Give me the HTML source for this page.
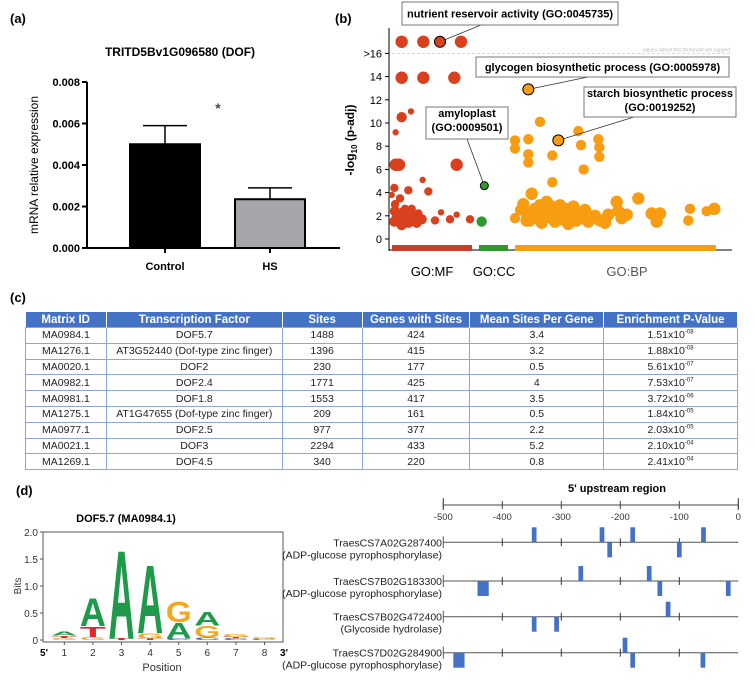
<!DOCTYPE html>
<html><head><meta charset="utf-8">
<style>
body{margin:0;background:#fff;width:755px;height:690px;overflow:hidden;position:relative;font-family:"Liberation Sans",Arial,sans-serif;}
svg{position:absolute;left:0;top:0;}
table{position:absolute;left:25px;top:312px;width:713px;border-collapse:collapse;font-family:"Liberation Sans Narrow","Liberation Sans",sans-serif;font-size:10.5px;color:#222;}
th{background:#4472c4;color:#fff;font-weight:bold;font-size:11.5px;height:15px;padding:0;border-right:1px solid #fff;}
td{height:14.8px;padding:0;text-align:center;border:1px solid #8ea6d6;}
sup{font-size:6px;}
</style></head>
<body>
<svg width="755" height="690" viewBox="0 0 755 690" font-family="Liberation Sans, Arial, sans-serif">
<text x="10" y="23" font-size="13" font-weight="bold">(a)</text>
<text x="335" y="23" font-size="13" font-weight="bold">(b)</text>
<text x="10" y="302" font-size="13" font-weight="bold">(c)</text>
<text x="16" y="495" font-size="13" font-weight="bold">(d)</text>
<g id="pa"></g>
<g id="pb"></g>
<g id="pd1"></g>
<g id="pd2"></g>
</svg>
<table>
<colgroup><col style="width:81px"><col style="width:176px"><col style="width:80px"><col style="width:108px"><col style="width:134px"><col style="width:134px"></colgroup>
<tr><th>Matrix ID</th><th>Transcription Factor</th><th>Sites</th><th>Genes with Sites</th><th>Mean Sites Per Gene</th><th>Enrichment P-Value</th></tr>
<tr><td>MA0984.1</td><td>DOF5.7</td><td>1488</td><td>424</td><td>3.4</td><td>1.51x10<sup>-08</sup></td></tr>
<tr><td>MA1276.1</td><td>AT3G52440 (Dof-type zinc finger)</td><td>1396</td><td>415</td><td>3.2</td><td>1.88x10<sup>-08</sup></td></tr>
<tr><td>MA0020.1</td><td>DOF2</td><td>230</td><td>177</td><td>0.5</td><td>5.61x10<sup>-07</sup></td></tr>
<tr><td>MA0982.1</td><td>DOF2.4</td><td>1771</td><td>425</td><td>4</td><td>7.53x10<sup>-07</sup></td></tr>
<tr><td>MA0981.1</td><td>DOF1.8</td><td>1553</td><td>417</td><td>3.5</td><td>3.72x10<sup>-06</sup></td></tr>
<tr><td>MA1275.1</td><td>AT1G47655 (Dof-type zinc finger)</td><td>209</td><td>161</td><td>0.5</td><td>1.84x10<sup>-05</sup></td></tr>
<tr><td>MA0977.1</td><td>DOF2.5</td><td>977</td><td>377</td><td>2.2</td><td>2.03x10<sup>-05</sup></td></tr>
<tr><td>MA0021.1</td><td>DOF3</td><td>2294</td><td>433</td><td>5.2</td><td>2.10x10<sup>-04</sup></td></tr>
<tr><td>MA1269.1</td><td>DOF4.5</td><td>340</td><td>220</td><td>0.8</td><td>2.41x10<sup>-04</sup></td></tr>
</table>
<script>
// ---- Panel a data ----
var aCategories = ["Control", "HS"];
var aMeans = [0.0050, 0.00235];
var aErrors = [0.0009, 0.00055];
var aTicks = [0, 0.002, 0.004, 0.006, 0.008];
// ---- Panel b data: [term position, -log10 p-adj, size] ----
var mfTerms = [[140,17,7],[205,17,7],[318,17,7],[140,13.9,7],[205,13.9,7],[298,13.9,7],[140,10.5,6],[168,11,4],[122,9.2,4],[122,6.4,7],[132,6.4,7],[305,6.4,7],[203,5.1,4],[220,4.1,5],[160,4.2,5],[118,4.4,5],[135,3.5,5],[120,3.0,5],[150,2.6,5],[128,1.8,7],[145,2.2,7],[160,1.5,7],[175,1.9,7],[185,1.4,6],[118,1.5,6],[120,2.4,6],[140,1.2,6],[190,2.2,5],[200,1.7,6],[240,1.6,5],[258,2.3,4],[285,1.7,5],[305,2.1,4],[345,1.7,5],[170,2.6,5],[110,3.8,4]];
var ccTerms = [[380,1.5,6]];
var bpTerms = [[480,8.5,6],[480,7.8,6],[520,8.6,6],[520,7.3,6],[520,6.6,6],[555,10.1,6],[592,7.2,6],[592,4.9,6],[670,9.3,6],[678,8.1,6],[686,6.0,6],[730,8.6,6],[733,7.9,6],[733,7.1,6],[505,3.0,7],[515,2.2,7],[515,1.6,7],[530,3.9,7],[540,2.6,7],[545,1.8,7],[555,2.9,7],[560,1.4,7],[570,2.4,7],[575,3.2,7],[585,1.9,7],[590,2.8,7],[600,1.5,7],[605,2.3,7],[615,2.9,7],[620,1.7,7],[630,2.6,7],[640,1.3,7],[645,2.1,7],[655,2.8,7],[660,1.6,7],[670,2.3,7],[680,1.8,7],[690,2.5,7],[700,1.5,7],[720,2.0,7],[735,1.6,7],[750,1.4,7],[760,2.1,7],[785,3.2,7],[790,2.4,7],[800,1.8,7],[815,2.1,7],[850,3.5,7],[890,2.2,7],[905,1.5,7],[915,2.2,7],[1000,1.6,6],[1005,2.6,6],[1055,2.4,6],[1078,2.6,7],[480,1.8,6],[495,2.5,6],[525,1.5,6],[610,2.0,6],[665,1.5,6]];
var highlighted = [["nutrient reservoir activity (GO:0045735)",255,17,"#d9401e"],["glycogen biosynthetic process (GO:0005978)",520,12.9,"#f89c12"],["starch biosynthetic process|(GO:0019252)",610,8.5,"#f89c12"],["amyloplast|(GO:0009501)",388,4.6,"#2e9a2e"]];
var bTicks = [0,2,4,6,8,10,12,14,16];
var bTickLabels = ["0","2","4","6","8","10","12","14",">16"];
// ---- Panel d logo: per position stacks [letter, bits] bottom->top ----
var logoPositions = [1,2,3,4,5,6,7,8];
var logoStacks = [[["G",0.04],["T",0.04],["A",0.07]],[["G",0.06],["T",0.2],["A",0.53]],[["T",0.03],["A",1.68]],[["T",0.03],["G",0.1],["A",1.3]],[["C",0.03],["A",0.3],["G",0.38]],[["C",0.05],["G",0.22],["A",0.26]],[["C",0.03],["T",0.03],["G",0.06]],[["C",0.02],["G",0.04]]];
var logoTicks = [0,0.5,1.0,1.5,2.0];
// ---- Panel d map ----
var genes = ["TraesCS7A02G287400","TraesCS7B02G183300","TraesCS7B02G472400","TraesCS7D02G284900"];
var geneDesc = ["(ADP-glucose pyrophosphorylase)","(ADP-glucose pyrophosphorylase)","(Glycoside hydrolase)","(ADP-glucose pyrophosphorylase)"];
// sites: [start bp, length bp, strand (+1 above / -1 below)]
var siteSets = [[[-350,8,1],[-235,8,1],[-183,8,1],[-63,8,1],[-222,8,-1],[-104,8,-1]],[[-271,8,1],[-155,8,1],[-442,19,-1],[-137,8,-1],[-21,8,-1]],[[-123,8,1],[-350,8,-1],[-312,8,-1]],[[-196,8,1],[-483,19,-1],[-183,8,-1],[-64,8,-1]]];
var mapTicks = [-500,-400,-300,-200,-100,0];

var NS="http://www.w3.org/2000/svg";
function mk(parent,tag,attrs,txt){var e=document.createElementNS(NS,tag);for(var k in attrs)e.setAttribute(k,attrs[k]);if(txt!==undefined)e.textContent=txt;parent.appendChild(e);return e;}

// ===== Panel a =====
(function(){
var g=document.getElementById('pa');
function y(v){return 248-v/0.008*166;}
var xc=[165,270];
var t=mk(g,'text',{x:180,y:56,'font-size':12,'font-weight':'bold','text-anchor':'middle'},'TRITD5Bv1G096580 (DOF)');


mk(g,'line',{x1:87,y1:y(0.008),x2:87,y2:249,stroke:'#000','stroke-width':2});
mk(g,'line',{x1:86,y1:248,x2:340,y2:248,stroke:'#000','stroke-width':2});
aTicks.forEach(function(v){
 mk(g,'line',{x1:82,y1:y(v),x2:87,y2:y(v),stroke:'#000','stroke-width':2});
 var tl=mk(g,'text',{x:80,y:y(v)+4,'font-size':11,'font-weight':'bold','text-anchor':'end'},v.toFixed(3));
 
 
});
var yl=mk(g,'text',{transform:'translate(38,165) rotate(-90)','font-size':12,'text-anchor':'middle'},'mRNA relative expression');


aCategories.forEach(function(c,i){
 var top=y(aMeans[i]), te=y(aMeans[i]+aErrors[i]);
 mk(g,'line',{x1:xc[i],y1:top,x2:xc[i],y2:te,stroke:'#000','stroke-width':1.5});
 mk(g,'line',{x1:xc[i]-22,y1:te,x2:xc[i]+22,y2:te,stroke:'#000','stroke-width':1.5});
 var r=mk(g,'rect',{x:xc[i]-35,y:top,width:70,height:248-top,fill:i?'#a5a5aa':'#000',stroke:'#000','stroke-width':2});
 
 
 mk(g,'line',{x1:xc[i],y1:248,x2:xc[i],y2:253,stroke:'#000','stroke-width':2});
 var l=mk(g,'text',{x:xc[i],y:270,'font-size':11,'font-weight':'bold','text-anchor':'middle'},c);
 
 
});
var s=mk(g,'text',{x:218,y:113,'font-size':14,'font-weight':'bold','fill':'#444','text-anchor':'middle'},'*');


})();

// ===== Panel b =====
(function(){
var g=document.getElementById('pb');
function y(v){return 239-v*11.6;}
function x(p){return 355+p/3;}
mk(g,'line',{x1:389,y1:28,x2:389,y2:251,stroke:'#000','stroke-width':1});
mk(g,'line',{x1:389,y1:250,x2:732,y2:250,stroke:'#000','stroke-width':1});
bTicks.forEach(function(v,i){
 mk(g,'line',{x1:385,y1:y(v),x2:389,y2:y(v),stroke:'#000'});
 var tl=mk(g,'text',{x:382,y:y(v)+4,'font-size':11,'text-anchor':'end'},bTickLabels[i]);
 
 
});
mk(g,'line',{x1:392,y1:y(16),x2:732,y2:y(16),stroke:'#ccc','stroke-dasharray':'3,2','stroke-width':0.7});
mk(g,'text',{x:730,y:y(16)-2,'font-size':5,fill:'#bbb','text-anchor':'end'},'values above this threshold are capped');
var yl=mk(g,'text',{transform:'translate(354,140) rotate(-90)','font-size':12,'font-weight':'bold','text-anchor':'middle'},'');


mk(yl,'tspan',{},'-log');mk(yl,'tspan',{'font-size':8,dy:3},'10');mk(yl,'tspan',{dy:-3},' (p-adj)');
function pts(arr,col,name){arr.forEach(function(d){var c=mk(g,'circle',{cx:x(d[0]),cy:y(d[1]),r:d[2]-0.8,fill:col});
 
 });}
pts(mfTerms,'#d9401e','mf-term-point');pts(ccTerms,'#2e9a2e','cc-term-point');pts(bpTerms,'#f89c12','bp-term-point');
var bars=[[392,472,'#c8402a','GO:MF',432,'#000'],[479,508,'#2e9a2e','GO:CC',494,'#000'],[515,716,'#f89c12','GO:BP',627,'#555']];
bars.forEach(function(b){
 var r=mk(g,'rect',{x:b[0],y:245,width:b[1]-b[0],height:6,fill:b[2]});
 
 
 var t=mk(g,'text',{x:b[4],y:276,'font-size':13,fill:b[5],'text-anchor':'middle'},b[3]);
 
 
});
var boxes=[[402,2,216,23,481,25],[476,57,253,20,588,77],[584,87,152,30,634,117],[426,107,82,32,467,139]];
highlighted.forEach(function(h,i){
 var b=boxes[i], px=x(h[1]), py=y(h[2]);
 mk(g,'line',{x1:b[4],y1:b[5],x2:px,y2:py,stroke:'#333','stroke-width':0.8});
 var c=mk(g,'circle',{cx:px,cy:py,r:i==3?4:5.5,fill:h[3],stroke:'#000','stroke-width':1});
 
 
 var r=mk(g,'rect',{x:b[0],y:b[1],width:b[2],height:b[3],fill:'#fff',stroke:'#777','stroke-width':1});
 
 
 var lines=h[0].split('|');
 lines.forEach(function(L,j){
  var t=mk(g,'text',{x:b[0]+b[2]/2,y:b[1]+(lines.length==1?b[3]/2+4:10+j*14),'font-size':11,'font-weight':'bold','text-anchor':'middle'},L);
  
  
 });
});
})();

// ===== Panel d logo =====
(function(){
var g=document.getElementById('pd1');
function y(v){return 640-v*54;}
function x(p){return 35.7+p*28.6;}
var cols={A:'#1f9a4a',G:'#f2a81d',T:'#e0262e',C:'#2d5fb8'};
var t=mk(g,'text',{x:126,y:522,'font-size':11,'font-weight':'bold','text-anchor':'middle'},'DOF5.7 (MA0984.1)');


mk(g,'rect',{x:43,y:532,width:240,height:110,fill:'none',stroke:'#555','stroke-width':1});
logoTicks.forEach(function(v){
 mk(g,'line',{x1:40,y1:y(v),x2:43,y2:y(v),stroke:'#555'});
 var l=mk(g,'text',{x:38,y:y(v)+4,'font-size':10,fill:'#333','text-anchor':'end'},v===0?'0':v.toFixed(1));
 
 
});
var bl=mk(g,'text',{transform:'translate(21,586) rotate(-90)','font-size':10,fill:'#333','text-anchor':'middle'},'Bits');


logoPositions.forEach(function(p,i){
 mk(g,'line',{x1:x(p),y1:642,x2:x(p),y2:645,stroke:'#555'});
 var l=mk(g,'text',{x:x(p),y:656,'font-size':10,fill:'#333','text-anchor':'middle'},String(p));
 
 
 var base=0;
 logoStacks[i].forEach(function(s){
  var h=s[1]*54, yb=y(base);
  var tx=mk(g,'text',{transform:'translate('+(x(p)-13)+','+yb+') scale(1,'+(h/72)+')','font-size':100,'font-weight':'bold',fill:cols[s[0]],textLength:26,lengthAdjust:'spacingAndGlyphs'},s[0]);
  
  
  base+=s[1];
 });
});
mk(g,'text',{x:44,y:656,'font-size':10,'font-weight':'bold','text-anchor':'middle'},"5'");
mk(g,'text',{x:284,y:656,'font-size':10,'font-weight':'bold','text-anchor':'middle'},"3'");
var pl=mk(g,'text',{x:162,y:671,'font-size':11,fill:'#333','text-anchor':'middle'},'Position');


})();

// ===== Panel d map =====
(function(){
var g=document.getElementById('pd2');
function x(v){return 738.3+v*0.59;}
var rowY=[542.3,581,616.7,652.7];
var t=mk(g,'text',{x:617,y:492,'font-size':11,'font-weight':'bold','text-anchor':'middle'},"5' upstream region");


mk(g,'line',{x1:x(-500),y1:505,x2:x(0),y2:505,stroke:'#444'});
mk(g,'line',{x1:x(-500),y1:498,x2:x(-500),y2:510,stroke:'#444'});
mk(g,'line',{x1:x(0),y1:498,x2:x(0),y2:510,stroke:'#444'});
mapTicks.forEach(function(v){
 mk(g,'line',{x1:x(v),y1:501,x2:x(v),y2:509,stroke:'#444'});
 var l=mk(g,'text',{x:x(v),y:520,'font-size':9.5,fill:'#333','text-anchor':'middle'},String(v));
 
 
});
genes.forEach(function(gn,i){
 var yy=rowY[i];
 mk(g,'line',{x1:x(-500),y1:yy,x2:x(0),y2:yy,stroke:'#555'});
 mk(g,'line',{x1:x(-500),y1:yy-6,x2:x(-500),y2:yy+6,stroke:'#555'});
 mapTicks.slice(1,5).forEach(function(v){mk(g,'line',{x1:x(v),y1:yy-4,x2:x(v),y2:yy+4,stroke:'#333'});});
 var n=mk(g,'text',{x:442,y:yy+4,'font-size':10.5,fill:'#222','text-anchor':'end'},gn);
 
 
 var d=mk(g,'text',{x:442,y:yy+16,'font-size':10.5,fill:'#222','text-anchor':'end'},geneDesc[i]);
 
 
 siteSets[i].forEach(function(s){
  var r=mk(g,'rect',{x:x(s[0]),y:s[2]>0?yy-15:yy,width:s[1]*0.59,height:15,fill:'#4472c4'});
  
  
 });
});
})();
</script>
</body></html>
